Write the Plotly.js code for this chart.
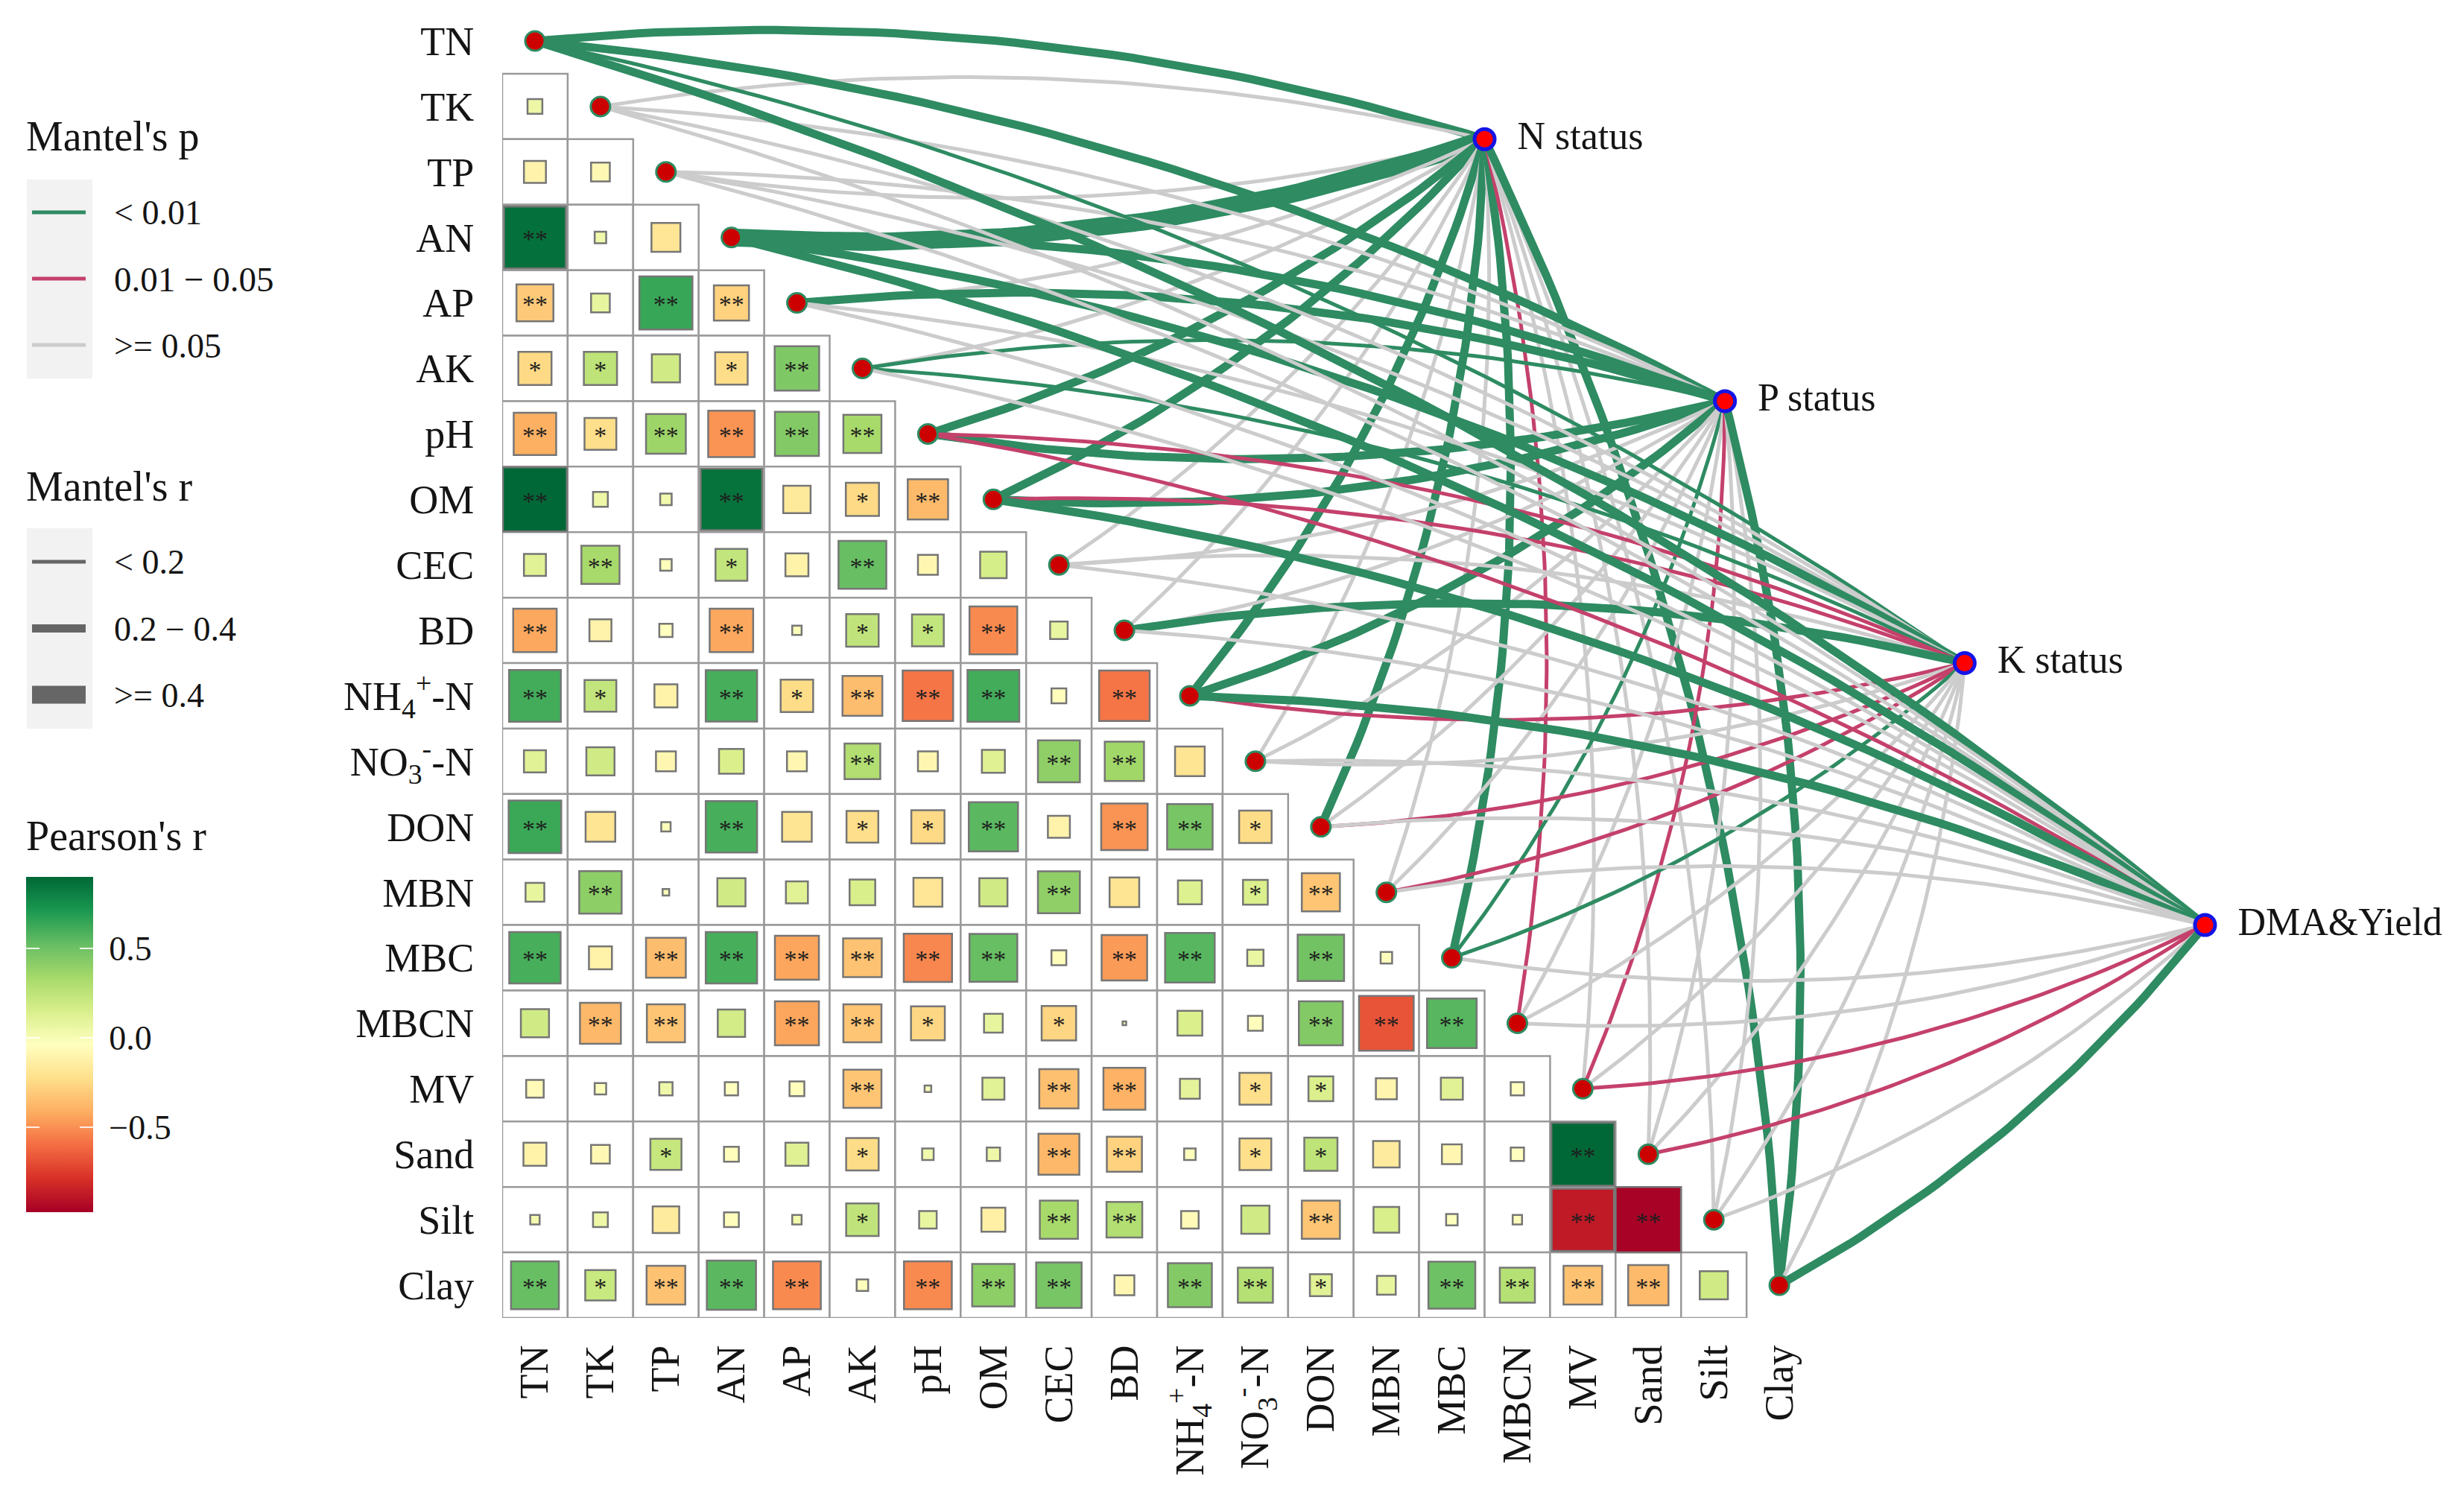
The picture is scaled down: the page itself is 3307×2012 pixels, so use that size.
<!DOCTYPE html>
<html>
<head>
<meta charset="utf-8">
<script src="https://cdn.plot.ly/plotly-3.0.1.min.js"></script>
<style>html,body{margin:0;padding:0;background:#fff}#chart{width:3307px;height:2012px}</style>
</head>
<body>
<div id="chart"></div>
<script>
// ---------- data ----------
const plainNames = ["TN","TK","TP","AN","AP","AK","pH","OM","CEC","BD","NH4-N","NO3-N","DON","MBN","MBC","MBCN","MV","Sand","Silt","Clay"];
const tickLabels = ["TN","TK","TP","AN","AP","AK","pH","OM","CEC","BD","NH<sub>4</sub><sup>+</sup>-N","NO<sub>3</sub><sup>-</sup>-N","DON","MBN","MBC","MBCN","MV","Sand","Silt","Clay"];
// Pearson's r, lower triangle
const rTK   = [.05];
const rTP   = [-.11,-.08];
const rAN   = [.87,.03,-.19];
const rAP   = [-.31,.08,.64,-.28];
const rAK   = [-.25,.25,.18,-.24,.45];
const rPH   = [-.41,-.23,.36,-.49,.44,.33];
const rOM   = [.93,.05,.03,.86,-.17,-.25,-.37];
const rCEC  = [.11,.33,-.03,.23,-.12,.52,-.09,.16];
const rBD   = [-.43,-.11,-.04,-.43,-.02,.24,.23,-.52,.07];
const rNH4  = [.61,.23,-.12,.6,-.24,-.36,-.58,.61,-.05,-.58];
const rNO3  = [.11,.18,-.09,.14,-.09,.29,-.09,.12,.4,.35,-.2];
const rDON  = [.63,-.2,-.02,.6,-.2,-.23,-.25,.55,-.11,-.49,.47,-.24];
const rMBN  = [.08,.41,-.01,.18,.11,.15,-.19,.18,.4,-.2,.13,.14,-.33];
const rMBC  = [.6,-.12,-.36,.6,-.44,-.34,-.53,.52,-.05,-.47,.56,.06,.49,-.03];
const rMBCN = [.18,-.38,-.33,.17,-.44,-.33,-.26,.08,-.27,-.003,.14,-.05,.44,-.68,.56];
const rMV   = [-.07,-.03,.04,-.04,-.05,-.33,-.01,.11,-.35,-.4,.09,-.23,.14,-.1,.11,-.04];
const rSand = [-.12,-.08,.22,-.05,.12,-.24,.03,.04,-.38,-.28,-.03,-.23,.25,-.16,-.09,-.04,.9];
const rSilt = [.02,.05,-.16,-.05,.02,.24,.07,-.13,.33,.29,-.07,.18,-.33,.15,-.03,-.02,-.88,-.97];
const rClay = [.52,.21,-.34,.55,-.52,-.03,-.52,.41,.47,-.09,.44,.28,.11,.08,.5,.28,-.34,-.37,.18];
const pearsonRows = [rTK,rTP,rAN,rAP,rAK,rPH,rOM,rCEC,rBD,rNH4,rNO3,rDON,rMBN,rMBC,rMBCN,rMV,rSand,rSilt,rClay];
// number of significance stars per cell, same shape
const starRows = ["0","00","200","2022","11012","212222","2002012","02010200","200201120","2102122202",
  "00000200220","200201120221","0200000020012","20222222022020","022022101000222",
  "0000020022011000","00100100220110002","000001002200200022","2122202220221022220"];
// Mantel environment nodes
const envNames = ["N status","P status","K status","DMA&Yield"];
const envCol = [14.5,18.17,21.83,25.5];
const envRow = [1.5,5.5,9.5,13.5];
// Mantel's p class per variable: g <0.01, p 0.01-0.05, n >=0.05
const pN   = "gnngnnggnngngngpnnng";
const pP   = "gnngggggnngnnngnpnng";
const pK   = "gnngngppngpnppgnnnnn";
const pDMA = "gnngnnpgnngnnnnnppng";
// Mantel's r class per variable: 1 <0.2, 2 0.2-0.4, 3 >=0.4
const rN   = "21131122112121211112";
const rP   = "21122122112111111112";
const rK   = "11121111121111111111";
const rDMA = "21121112112111111112";
const pByEnv = [pN,pP,pK,pDMA];
const rByEnv = [rN,rP,rK,rDMA];
const rdYlGn = ["#A50026","#D73027","#F46D43","#FDAE61","#FEE08B","#FFFFBF","#D9EF8B","#A6D96A","#66BD63","#1A9850","#006837"];

// ---------- styles ----------
const SERIF = "Liberation Serif, Times New Roman, serif";
const INK = "#141414";
const W = 3307, H = 2012;
const pColor = {g:"#2E8B62", p:"#C4416B", n:"#CCCCCC"};
const rWidth = {1:5, 2:11, 3:24};
const colorscale = rdYlGn.map((c,i)=>[i/(rdYlGn.length-1),c]);
const CMIN=-0.98, CMAX=0.90;
const fx = X=>X/W, fy = Y=>1-Y/H;

// ---------- traces ----------
const traces = [];
const CURV = 0.05;
envNames.forEach((env,e)=>{
  plainNames.forEach((name,i)=>{
    const x0=i, y0=i, x1=envCol[e], y1=envRow[e];
    const dx=x1-x0, dy=y1-y0, L=Math.hypot(dx,dy);
    const sgn = dy>0 ? 1 : -1;
    const nx = sgn*dy/L, ny = -sgn*dx/L;
    const cx=(x0+x1)/2+nx*2*CURV*L, cy=(y0+y1)/2+ny*2*CURV*L;
    const xs=[],ys=[];
    for(let k=0;k<=48;k++){const t=k/48,u=1-t;
      xs.push(u*u*x0+2*u*t*cx+t*t*x1); ys.push(u*u*y0+2*u*t*cy+t*t*y1);}
    traces.push({type:"scatter",mode:"lines",x:xs,y:ys,hoverinfo:"skip",showlegend:false,cliponaxis:false,
      line:{color:pColor[pByEnv[e][i]],width:rWidth[rByEnv[e][i]]}});
  });
});

const cx=[],cy=[],cr=[],cs=[],sx=[],sy=[],st=[];
pearsonRows.forEach((row,ri)=>row.forEach((v,j)=>{
  cx.push(j);cy.push(ri+1);cr.push(v);
  cs.push(89*Math.sqrt(Math.abs(v)));
  const n=+starRows[ri][j];
  if(n){sx.push(j);sy.push(ri+1.06);st.push("*".repeat(n));}
}));
const cbBase = {lenmode:"pixels",len:449.5,thicknessmode:"pixels",xref:"paper",yref:"paper",
  xanchor:"left",yanchor:"bottom",y:fy(1627.5),xpad:0,ypad:0,outlinewidth:0,borderwidth:0,
  tickmode:"array",tickvals:[-0.5,0,0.5],ticks:"inside",tickcolor:"rgba(255,255,255,0.85)",ticklen:18,tickwidth:2};
traces.push({type:"scatter",mode:"markers",x:cx,y:cy,hoverinfo:"skip",showlegend:false,
  marker:{symbol:"square",size:cs,sizemode:"diameter",opacity:1,color:cr,colorscale,cmin:CMIN,cmax:CMAX,
    line:{color:"#767676",width:2.5},showscale:true,
    colorbar:Object.assign({},cbBase,{x:fx(35),thickness:90,ticktext:["\u00A0\u22120.5","\u00A00.0","\u00A00.5"],
      tickfont:{family:SERIF,size:46,color:INK}})}});
// second scale only for the white tick marks on the left side of the bar
traces.push({type:"scatter",mode:"markers",x:[null],y:[null],hoverinfo:"skip",showlegend:false,
  marker:{color:[0],colorscale,cmin:CMIN,cmax:CMAX,showscale:true,
    colorbar:Object.assign({},cbBase,{x:fx(35),thickness:18,showticklabels:false})}});
traces.push({type:"scatter",mode:"text",x:sx,y:sy,text:st,textposition:"middle center",
  textfont:{family:SERIF,size:34,color:"#1e1e1e"},hoverinfo:"skip",showlegend:false});

traces.push({type:"scatter",mode:"markers",x:plainNames.map((_,i)=>i),y:plainNames.map((_,i)=>i),
  hoverinfo:"skip",showlegend:false,cliponaxis:false,
  marker:{symbol:"circle",size:26,opacity:1,color:"#CC0000",line:{color:"#2E8B62",width:3}}});
traces.push({type:"scatter",mode:"markers",x:envCol,y:envRow,hoverinfo:"skip",showlegend:false,cliponaxis:false,
  marker:{symbol:"circle",size:27,opacity:1,color:"#FF0000",line:{color:"#1414E6",width:5}}});
traces.push({type:"scatter",mode:"text",x:envCol.map(v=>v+0.5),y:envRow,text:envNames,textposition:"middle right",
  hoverinfo:"skip",showlegend:false,cliponaxis:false,textfont:{family:SERIF,size:52,color:INK}});

// ---------- layout pieces ----------
const shapes=[];
for(let r=1;r<plainNames.length;r++)for(let c=0;c<r;c++){
  shapes.push({type:"rect",xref:"x",yref:"y",x0:c-.5,x1:c+.5,y0:r-.5,y1:r+.5,layer:"below",
    fillcolor:"#fff",line:{color:"#9a9a9a",width:2.5}});
}
const box=(y0,y1)=>({type:"rect",xref:"paper",yref:"paper",x0:fx(36),x1:fx(124),y0:fy(y0),y1:fy(y1),
  fillcolor:"#F2F2F2",line:{width:0},layer:"below"});
const lgLine=(y,color,w)=>({type:"line",xref:"paper",yref:"paper",x0:fx(43),x1:fx(115),y0:fy(y),y1:fy(y),
  line:{color,width:w},layer:"above"});
shapes.push(box(241,508),box(709,978));
shapes.push(lgLine(285,pColor.g,5),lgLine(374,pColor.p,5),lgLine(463,pColor.n,5));
shapes.push(lgLine(754,"#666666",5),lgLine(843.5,"#666666",11),lgLine(932.5,"#666666",24));

const note=(X,Y,text,size)=>({xref:"paper",yref:"paper",x:fx(X),y:fy(Y),text,showarrow:false,xanchor:"left",yanchor:"middle",
  font:{family:SERIF,size,color:INK},borderpad:0,align:"left"});
const annotations=[
  note(34,183,"Mantel's p",56),note(34,653,"Mantel's r",56),note(34,1122,"Pearson's r",56),
  note(152,285,"&lt; 0.01",46),note(152,375,"0.01 \u2212 0.05",47),note(152,464,"&gt;= 0.05",46),
  note(152,755,"&lt; 0.2",46),note(152,844.5,"0.2 \u2212 0.4",46),note(152,933.5,"&gt;= 0.4",46)
];
const axisCommon={showgrid:false,zeroline:false,showline:false,tickmode:"array",
  tickvals:plainNames.map((_,i)=>i),ticktext:tickLabels,ticks:"outside",tickcolor:"rgba(0,0,0,0)",
  tickfont:{family:SERIF,size:54,color:INK},automargin:false,fixedrange:true};
const layout={width:W,height:H,paper_bgcolor:"#fff",plot_bgcolor:"rgba(0,0,0,0)",showlegend:false,
  margin:{l:0,r:0,t:0,b:0,pad:0,autoexpand:false},
  xaxis:Object.assign({},axisCommon,{domain:[674/W,1],range:[-0.5,(W-718)/87.9],tickangle:-90,ticklen:14}),
  yaxis:Object.assign({},axisCommon,{domain:[(H-1769)/H,1],range:[19.5,-55/87.9],ticklen:26}),
  shapes,annotations};
Plotly.newPlot("chart",traces,layout,{staticPlot:true,displayModeBar:false});
</script>
</body>
</html>
